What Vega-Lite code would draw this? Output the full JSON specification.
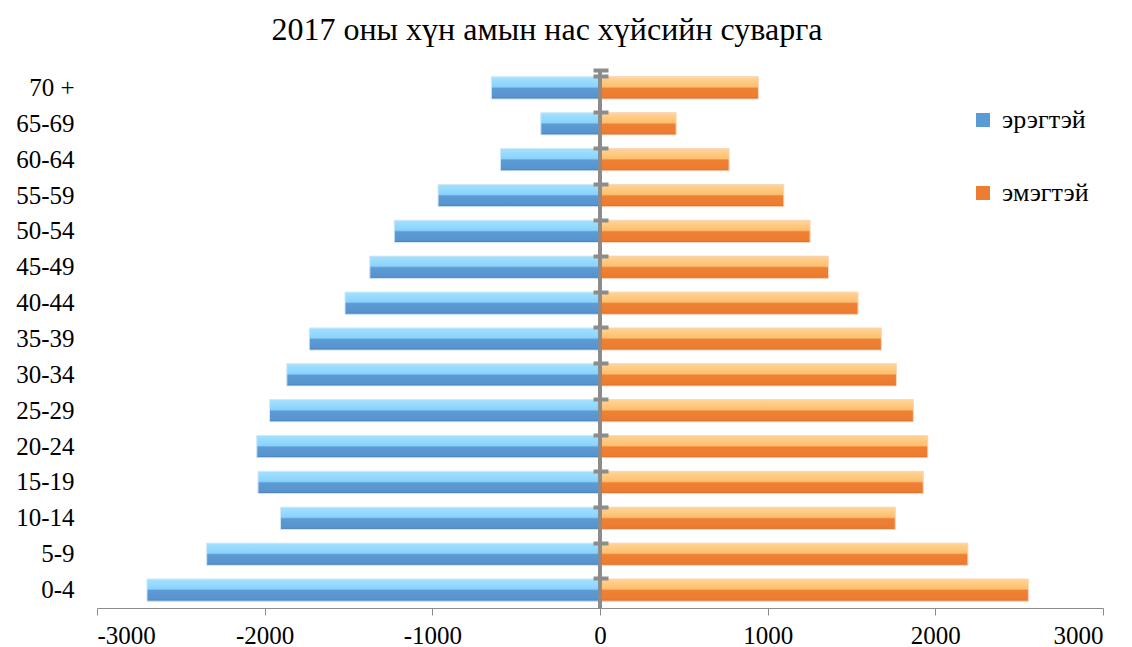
{
  "$schema": "https://vega.github.io/schema/vega-lite/v6.json",
  "width": 1006,
  "height": 538,
  "autosize": {"type": "none"},
  "padding": {"left": 97, "top": 70, "right": 29, "bottom": 39},
  "background": "white",
  "title": {"text": "2017 оны хүн амын нас хүйсийн суварга", "font": "Liberation Serif", "fontSize": 32, "fontWeight": "normal", "color": "#000000", "offset": 21, "dx": -53},
  "config": {"view": {"stroke": null}, "font": "Liberation Serif",
    "axis": {"labelFont": "Liberation Serif"}, "legend": {"labelFont": "Liberation Serif"}},
  "data": {"values": [
    {"age": "70 +", "sex": "эрэгтэй", "value": -648},
    {"age": "65-69", "sex": "эрэгтэй", "value": -353},
    {"age": "60-64", "sex": "эрэгтэй", "value": -594},
    {"age": "55-59", "sex": "эрэгтэй", "value": -966},
    {"age": "50-54", "sex": "эрэгтэй", "value": -1227},
    {"age": "45-49", "sex": "эрэгтэй", "value": -1373},
    {"age": "40-44", "sex": "эрэгтэй", "value": -1521},
    {"age": "35-39", "sex": "эрэгтэй", "value": -1734},
    {"age": "30-34", "sex": "эрэгтэй", "value": -1868},
    {"age": "25-29", "sex": "эрэгтэй", "value": -1971},
    {"age": "20-24", "sex": "эрэгтэй", "value": -2047},
    {"age": "15-19", "sex": "эрэгтэй", "value": -2040},
    {"age": "10-14", "sex": "эрэгтэй", "value": -1906},
    {"age": "5-9", "sex": "эрэгтэй", "value": -2346},
    {"age": "0-4", "sex": "эрэгтэй", "value": -2702},
    {"age": "70 +", "sex": "эмэгтэй", "value": 945},
    {"age": "65-69", "sex": "эмэгтэй", "value": 454},
    {"age": "60-64", "sex": "эмэгтэй", "value": 770},
    {"age": "55-59", "sex": "эмэгтэй", "value": 1096},
    {"age": "50-54", "sex": "эмэгтэй", "value": 1253},
    {"age": "45-49", "sex": "эмэгтэй", "value": 1363},
    {"age": "40-44", "sex": "эмэгтэй", "value": 1539},
    {"age": "35-39", "sex": "эмэгтэй", "value": 1678},
    {"age": "30-34", "sex": "эмэгтэй", "value": 1768},
    {"age": "25-29", "sex": "эмэгтэй", "value": 1869},
    {"age": "20-24", "sex": "эмэгтэй", "value": 1955},
    {"age": "15-19", "sex": "эмэгтэй", "value": 1928},
    {"age": "10-14", "sex": "эмэгтэй", "value": 1761},
    {"age": "5-9", "sex": "эмэгтэй", "value": 2194},
    {"age": "0-4", "sex": "эмэгтэй", "value": 2555}
  ]},
  "encoding": {
    "y": {
      "field": "age", "type": "nominal",
      "sort": ["70 +", "65-69", "60-64", "55-59", "50-54", "45-49", "40-44", "35-39", "30-34", "25-29", "20-24", "15-19", "10-14", "5-9", "0-4"],
      "scale": {"paddingInner": 0.38, "paddingOuter": 0.19},
      "axis": null
    },
    "x": {
      "field": "value", "type": "quantitative",
      "scale": {"domain": [-3000, 3000], "nice": false, "zero": false},
      "axis": {"title": null, "grid": false, "values": [-3000, -2000, -1000, 0, 1000, 2000, 3000], "labelExpr": "'' + datum.value", "labelFontSize": 25, "labelColor": "#000000", "labelFont": "Liberation Serif", "domainColor": "#8c8c8c", "tickColor": "#8c8c8c", "tickSize": 7, "labelPadding": 8}
    }
  },
  "layer": [
    {
      "mark": {"type": "bar"},
      "encoding": {
        "y": {"field": "age", "type": "nominal",
          "sort": ["70 +", "65-69", "60-64", "55-59", "50-54", "45-49", "40-44", "35-39", "30-34", "25-29", "20-24", "15-19", "10-14", "5-9", "0-4"],
          "axis": {"orient": "left", "title": null, "ticks": false, "domain": false, "labelFontSize": 25, "labelColor": "#000000", "labelPadding": 23, "labelFont": "Liberation Serif"}},
        "color": {"field": "sex", "type": "nominal",
          "scale": {"domain": ["эрэгтэй", "эмэгтэй"], "range": ["#5b9bd5", "#ed7d31"]},
          "legend": {"orient": "none", "legendX": 873, "legendY": 37, "title": null, "symbolType": "square", "symbolSize": 196, "labelFontSize": 26, "labelFont": "Liberation Serif", "labelColor": "#000000", "rowPadding": 47, "labelOffset": 6, "symbolStrokeWidth": 0}}
      }
    },
    {
      "transform": [{"filter": "datum.sex == 'эрэгтэй'"}],
      "mark": {"type": "bar", "stroke": "#d6ebfa", "strokeWidth": 1,
        "fill": {"gradient": "linear", "x1": 0, "y1": 0, "x2": 0, "y2": 1, "stops": [
          {"offset": 0, "color": "#a3e2ff"},
          {"offset": 0.45, "color": "#8ad2fc"},
          {"offset": 0.52, "color": "#5c9bd4"},
          {"offset": 0.9, "color": "#5894cf"},
          {"offset": 1, "color": "#4678ad"}]}}
    },
    {
      "transform": [{"filter": "datum.sex == 'эмэгтэй'"}],
      "mark": {"type": "bar", "stroke": "#fbd9c0", "strokeWidth": 1,
        "fill": {"gradient": "linear", "x1": 0, "y1": 0, "x2": 0, "y2": 1, "stops": [
          {"offset": 0, "color": "#ffd595"},
          {"offset": 0.45, "color": "#fdbf6f"},
          {"offset": 0.52, "color": "#ee8134"},
          {"offset": 0.9, "color": "#ec7c31"},
          {"offset": 1, "color": "#d66d27"}]}}
    },
    {
      "mark": {"type": "rule", "stroke": "#8c8c8c", "strokeWidth": 4},
      "encoding": {"x": {"datum": 0}, "y": null}
    },
    {
      "mark": {"type": "tick", "opacity": 0},
      "encoding": {
        "y": {"field": "age", "type": "nominal",
          "sort": ["70 +", "65-69", "60-64", "55-59", "50-54", "45-49", "40-44", "35-39", "30-34", "25-29", "20-24", "15-19", "10-14", "5-9", "0-4"],
          "axis": {"orient": "right", "offset": -510, "title": null, "labels": false, "domain": false, "ticks": true, "tickSize": 15, "tickWidth": 4, "tickColor": "#8c8c8c", "bandPosition": 0, "tickExtra": true, "zindex": 2}},
        "x": {"datum": 0}
      }
    }
  ],
  "resolve": {"axis": {"y": "independent"}}
}
